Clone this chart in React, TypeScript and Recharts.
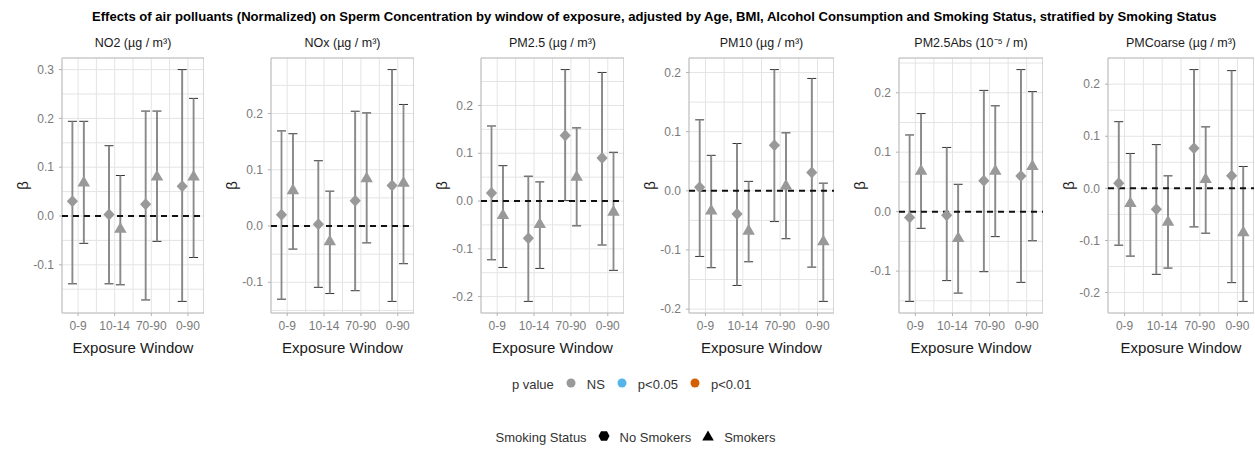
import React from 'react';
import {
  ScatterChart,
  Scatter,
  XAxis,
  YAxis,
  CartesianGrid,
  ErrorBar,
  ReferenceLine,
  ReferenceArea,
} from 'recharts';

const FONT = '"Liberation Sans", Arial, Helvetica, sans-serif';

// ---------- data ----------
const exposureWindows = ['0-9', '10-14', '70-90', '0-90'];

const pollutantTitles = [
  'NO2 (µg / m³)',
  'NOx (µg / m³)',
  'PM2.5 (µg / m³)',
  'PM10 (µg / m³)',
  'PM2.5Abs (10⁻⁵ / m)',
  'PMCoarse (µg / m³)',
];

// each row: [beta, lower CI, upper CI] for windows 0-9, 10-14, 70-90, 0-90
const no2NoSmokers = [[0.030, -0.139, 0.194], [0.003, -0.139, 0.144], [0.024, -0.172, 0.215], [0.061, -0.175, 0.300]];
const no2Smokers = [[0.068, -0.056, 0.194], [-0.027, -0.141, 0.083], [0.080, -0.052, 0.215], [0.080, -0.085, 0.241]];

const noxNoSmokers = [[0.020, -0.130, 0.169], [0.003, -0.109, 0.116], [0.045, -0.115, 0.204], [0.072, -0.134, 0.278]];
const noxSmokers = [[0.063, -0.041, 0.164], [-0.028, -0.120, 0.062], [0.084, -0.030, 0.201], [0.076, -0.067, 0.216]];

const pm25NoSmokers = [[0.017, -0.123, 0.157], [-0.078, -0.210, 0.052], [0.137, 0.001, 0.275], [0.090, -0.092, 0.269]];
const pm25Smokers = [[-0.030, -0.139, 0.074], [-0.049, -0.141, 0.040], [0.050, -0.052, 0.153], [-0.023, -0.145, 0.102]];

const pm10NoSmokers = [[0.006, -0.111, 0.120], [-0.039, -0.160, 0.080], [0.077, -0.052, 0.205], [0.031, -0.129, 0.190]];
const pm10Smokers = [[-0.034, -0.130, 0.060], [-0.068, -0.120, 0.016], [0.008, -0.081, 0.098], [-0.086, -0.187, 0.013]];

const pm25AbsNoSmokers = [[-0.010, -0.151, 0.129], [-0.006, -0.116, 0.108], [0.052, -0.101, 0.204], [0.060, -0.119, 0.239]];
const pm25AbsSmokers = [[0.068, -0.028, 0.165], [-0.045, -0.137, 0.046], [0.068, -0.042, 0.178], [0.076, -0.049, 0.202]];

const pmCoarseNoSmokers = [[0.010, -0.109, 0.128], [-0.040, -0.165, 0.084], [0.077, -0.074, 0.228], [0.024, -0.181, 0.226]];
const pmCoarseSmokers = [[-0.029, -0.130, 0.067], [-0.065, -0.153, 0.024], [0.017, -0.086, 0.118], [-0.085, -0.217, 0.042]];

// grid / tick values (labels shown on multiples of 0.1)
const no2Ticks = [-0.15, -0.1, -0.05, 0, 0.05, 0.1, 0.15, 0.2, 0.25, 0.3];
const noxTicks = [-0.15, -0.1, -0.05, 0, 0.05, 0.1, 0.15, 0.2, 0.25];
const pm25Ticks = [-0.2, -0.15, -0.1, -0.05, 0, 0.05, 0.1, 0.15, 0.2, 0.25];
const pm10Ticks = [-0.2, -0.15, -0.1, -0.05, 0, 0.05, 0.1, 0.15, 0.2];
const pm25AbsTicks = [-0.15, -0.1, -0.05, 0, 0.05, 0.1, 0.15, 0.2, 0.25];
const pmCoarseTicks = [-0.2, -0.15, -0.1, -0.05, 0, 0.05, 0.1, 0.15, 0.2];

const pValueLabels = ['NS', 'p<0.05', 'p<0.01'];
const pValueColors = ['#999999', '#56B4E9', '#D55E00'];
const smokingLabels = ['No Smokers', 'Smokers'];

// ---------- layout ----------
const panelData = [
  { noSmk: no2NoSmokers, smk: no2Smokers, ticks: no2Ticks },
  { noSmk: noxNoSmokers, smk: noxSmokers, ticks: noxTicks },
  { noSmk: pm25NoSmokers, smk: pm25Smokers, ticks: pm25Ticks },
  { noSmk: pm10NoSmokers, smk: pm10Smokers, ticks: pm10Ticks },
  { noSmk: pm25AbsNoSmokers, smk: pm25AbsSmokers, ticks: pm25AbsTicks },
  { noSmk: pmCoarseNoSmokers, smk: pmCoarseSmokers, ticks: pmCoarseTicks },
];
const plotLefts = [62, 271, 481, 689, 899, 1108];
const plotRights = [204, 414, 624, 834, 1043, 1254];
const PLOT_TOP = 58;
const CHART_H = 365;
const X_AXIS_H = 52;
const Y_AXIS_W = 62;
const DODGE = 0.155;
const X_DOMAIN: [number, number] = [0.56, 4.44];
const xTicks = [1, 1.5, 2, 2.5, 3, 3.5, 4];
const POINT_FILL = pValueColors[0];

const toPoints = (rows: number[][], offset: number) =>
  rows.map((r, i) => ({ x: i + 1 + offset, y: r[0], err: [r[0] - r[1], r[2] - r[0]] }));

const yDomain = (a: number[][], b: number[][]): [number, number] => {
  const all = [...a, ...b].flatMap((r) => [r[1], r[2]]);
  const lo = Math.min(...all);
  const hi = Math.max(...all);
  const pad = (hi - lo) * 0.05;
  return [lo - pad, hi + pad];
};

const isMajor = (v: number) => Math.abs(v * 10 - Math.round(v * 10)) < 1e-6;

const Diamond = (p: any) => {
  const { cx, cy } = p;
  const w = 5.6;
  const h = 6.0;
  return <path d={`M${cx},${cy - h}L${cx + w},${cy}L${cx},${cy + h}L${cx - w},${cy}Z`} fill={POINT_FILL} />;
};

const Triangle = (p: any) => {
  const { cx, cy } = p;
  const s = 12.5;
  const R = s / Math.sqrt(3);
  return <path d={`M${cx},${cy - R}L${cx + s / 2},${cy + R / 2}L${cx - s / 2},${cy + R / 2}Z`} fill={POINT_FILL} />;
};

const YTick = (props: any) => {
  const { x, y, payload } = props;
  const v = payload.value as number;
  if (!isMajor(v)) return <g />;
  return (
    <g>
      <line x1={x + 5} x2={x + 8} y1={y} y2={y} stroke="#b3b3b3" />
      <text x={x} y={y} dy={4.2} textAnchor="end" fontSize={12} fill="#7a7a7a">
        {v.toFixed(1)}
      </text>
    </g>
  );
};

const XTick = (props: any) => {
  const { x, y, payload } = props;
  const v = payload.value as number;
  if (Math.abs(v - Math.round(v)) > 1e-6) return <g />;
  return (
    <g>
      <line x1={x} x2={x} y1={y - 6} y2={y - 3} stroke="#b3b3b3" />
      <text x={x} y={y} dy={11} textAnchor="middle" fontSize={12} fill="#7a7a7a">
        {exposureWindows[Math.round(v) - 1]}
      </text>
    </g>
  );
};

const BetaLabel = (props: any) => {
  const vb = props.viewBox || { x: 0, y: 0, height: 0 };
  const x = vb.x + 22;
  const y = vb.y + vb.height / 2;
  return (
    <text x={x} y={y} transform={`rotate(-90 ${x} ${y})`} textAnchor="middle" dominantBaseline="central" fontSize={15} fill="#1a1a1a">
      β
    </text>
  );
};

const Panel = ({ idx }: { idx: number }) => {
  const d = panelData[idx];
  const left = plotLefts[idx] - Y_AXIS_W;
  const width = plotRights[idx] - left;
  const dom = yDomain(d.noSmk, d.smk);
  const noSmkPts = toPoints(d.noSmk, -DODGE);
  const smkPts = toPoints(d.smk, DODGE);
  return (
    <div style={{ position: 'absolute', left, top: 0, width, height: CHART_H }}>
      <ScatterChart width={width} height={CHART_H} margin={{ top: PLOT_TOP, right: 0, bottom: 0, left: 0 }}>
        <CartesianGrid stroke="#e4e4e4" strokeWidth={1} />
        <XAxis
          type="number"
          dataKey="x"
          domain={X_DOMAIN}
          allowDataOverflow
          ticks={xTicks}
          interval={0}
          tickSize={3}
          tickMargin={3}
          tickLine={false}
          axisLine={false}
          tick={<XTick />}
          height={X_AXIS_H}
          label={{ value: 'Exposure Window', position: 'insideBottom', offset: 12, fill: '#1a1a1a', fontSize: 15 }}
        />
        <YAxis
          type="number"
          dataKey="y"
          domain={dom}
          allowDataOverflow
          ticks={d.ticks}
          interval={0}
          tickSize={3}
          tickMargin={5}
          tickLine={false}
          axisLine={false}
          tick={<YTick />}
          width={Y_AXIS_W}
          label={<BetaLabel />}
        />
        <ReferenceArea
          x1={X_DOMAIN[0]}
          x2={X_DOMAIN[1]}
          y1={dom[0]}
          y2={dom[1]}
          ifOverflow="visible"
          fill="none"
          fillOpacity={0}
          stroke="#bdbdbd"
          strokeWidth={1}
        />
        <Scatter data={noSmkPts} shape={<Diamond />} isAnimationActive={false}>
          <ErrorBar dataKey="err" direction="y" width={4.5} stroke="#333333" strokeWidth={1} isAnimationActive={false} />
          <ErrorBar dataKey="err" direction="y" width={0} stroke="#8a8a8a" strokeWidth={1.8} isAnimationActive={false} />
        </Scatter>
        <Scatter data={smkPts} shape={<Triangle />} isAnimationActive={false}>
          <ErrorBar dataKey="err" direction="y" width={4.5} stroke="#333333" strokeWidth={1} isAnimationActive={false} />
          <ErrorBar dataKey="err" direction="y" width={0} stroke="#8a8a8a" strokeWidth={1.8} isAnimationActive={false} />
        </Scatter>
        <ReferenceLine y={0} stroke="#111" strokeWidth={2} strokeDasharray="6 5" ifOverflow="visible" />
      </ScatterChart>
    </div>
  );
};

const LegendDot = ({ color }: { color: string }) => (
  <svg width={10} height={10} style={{ margin: '0 11px 0 12px', position: 'relative', top: -2 }}>
    <circle cx={5} cy={5} r={4.5} fill={color} />
  </svg>
);

const LegendShape = ({ kind }: { kind: string }) => (
  <svg width={12} height={12} style={{ margin: '0 10px 0 11px', position: 'relative', top: -2 }}>
    {kind === 'diamond' ? (
      <path d="M3,1.2L9,1.2L11.5,6L9,10.8L3,10.8L0.5,6Z" fill="#000" />
    ) : (
      <path d="M6,0.6L11.8,10.6L0.2,10.6Z" fill="#000" />
    )}
  </svg>
);

export default function App() {
  return (
    <div
      style={{
        position: 'absolute',
        left: 0,
        top: 0,
        width: 1255,
        height: 450,
        background: '#fff',
        fontFamily: FONT,
        overflow: 'hidden',
      }}
    >
      <div
        style={{
          position: 'absolute',
          left: 92,
          top: 9,
          whiteSpace: 'nowrap',
          fontSize: 13.1,
          fontWeight: 'bold',
          color: '#000',
          lineHeight: '16px',
        }}
      >
        Effects of air polluants (Normalized) on Sperm Concentration by window of exposure, adjusted by Age, BMI, Alcohol
        Consumption and Smoking Status, stratified by Smoking Status
      </div>
      {pollutantTitles.map((t, i) => (
        <div
          key={t}
          style={{
            position: 'absolute',
            left: plotLefts[i],
            width: plotRights[i] - plotLefts[i],
            top: 35,
            textAlign: 'center',
            fontSize: 12.5,
            color: '#1a1a1a',
            lineHeight: '16px',
            whiteSpace: 'nowrap',
          }}
        >
          {t}
        </div>
      ))}
      {panelData.map((_, i) => (
        <Panel key={i} idx={i} />
      ))}
      <div
        style={{
          position: 'absolute',
          left: 0,
          width: 1255,
          top: 377,
          display: 'flex',
          justifyContent: 'center',
          alignItems: 'center',
          fontSize: 13,
          color: '#333',
          lineHeight: '16px',
          paddingLeft: 4,
        }}
      >
        <span>p value</span>
        {pValueLabels.map((l, i) => (
          <React.Fragment key={l}>
            <LegendDot color={pValueColors[i]} />
            <span>{l}</span>
          </React.Fragment>
        ))}
      </div>
      <div
        style={{
          position: 'absolute',
          left: 0,
          width: 1255,
          top: 430,
          display: 'flex',
          justifyContent: 'center',
          alignItems: 'center',
          fontSize: 13,
          color: '#333',
          lineHeight: '16px',
          paddingLeft: 8,
        }}
      >
        <span>Smoking Status</span>
        <LegendShape kind="diamond" />
        <span>{smokingLabels[0]}</span>
        <LegendShape kind="triangle" />
        <span>{smokingLabels[1]}</span>
      </div>
    </div>
  );
}
